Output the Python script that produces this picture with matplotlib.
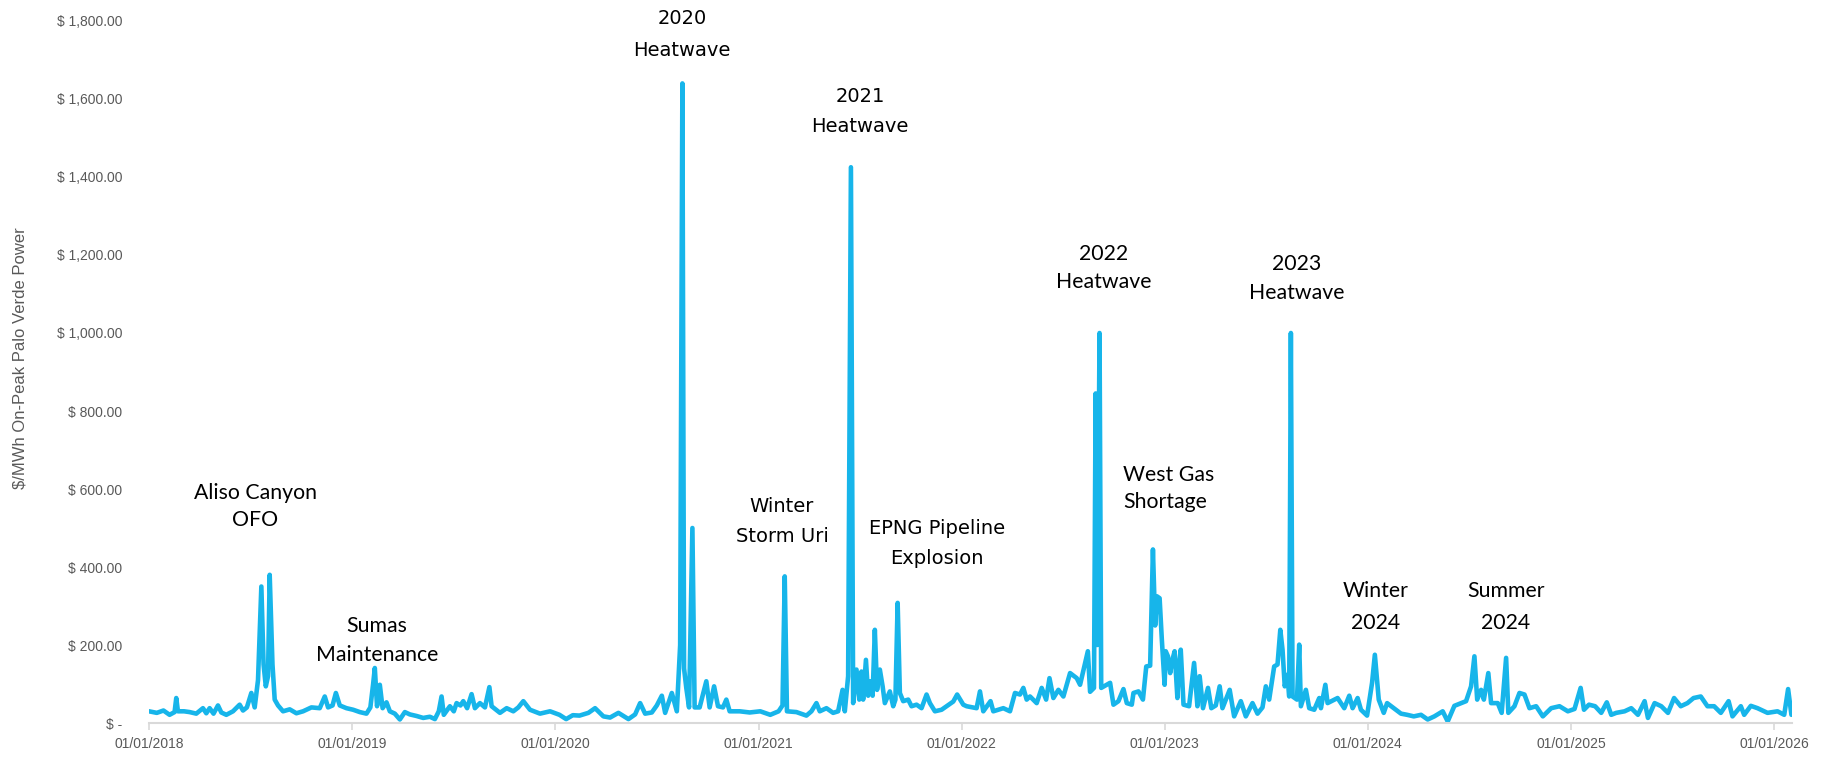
import pandas as pd
import matplotlib
matplotlib.use("Agg")
import matplotlib.pyplot as plt
import matplotlib.dates as mdates
from matplotlib import font_manager
from matplotlib.ticker import FuncFormatter

# On-peak Palo Verde power, $/MWh
d2018 = ["01-01", "01-15", "01-27", "02-07", "02-16", "02-19", "02-22", "03-05", "03-15", "03-27",
         "04-08", "04-14", "04-20", "04-27", "05-05", "05-11", "05-20", "06-01", "06-13", "06-19",
         "06-26", "07-04", "07-10", "07-16", "07-22", "07-26", "07-30", "08-03", "08-06", "08-11",
         "08-15", "08-21", "08-30", "09-11", "09-23", "10-05", "10-20", "11-04", "11-13", "11-19",
         "11-27", "12-03", "12-10", "12-22"]
v2018 = [30, 26, 32, 21, 28, 64, 30, 30, 28, 24,
         38, 25, 38, 24, 45, 27, 21, 30, 47, 32,
         40, 77, 40, 110, 350, 150, 94, 120, 380, 150,
         60, 45, 30, 35, 25, 30, 40, 38, 68, 40,
         45, 77, 45, 38]

d2019 = ["01-03", "01-15", "01-27", "02-03", "02-08", "02-11", "02-15", "02-20", "02-25", "03-04",
         "03-10", "03-19", "03-28", "04-06", "04-15", "04-27", "05-09", "05-21", "05-30", "06-06",
         "06-11", "06-15", "06-26", "07-03", "07-08", "07-15", "07-20", "07-27", "08-04", "08-10",
         "08-19", "08-28", "09-05", "09-09", "09-24", "10-06", "10-18", "10-27", "11-05", "11-17",
         "12-05", "12-23"]
v2019 = [34, 28, 24, 40, 100, 141, 43, 98, 38, 53,
         30, 24, 9, 28, 22, 18, 13, 16, 10, 30,
         68, 21, 43, 30, 51, 45, 56, 38, 74, 38,
         51, 40, 92, 43, 26, 38, 30, 40, 56, 34,
         24, 30]

d2020 = ["01-09", "01-21", "02-02", "02-14", "03-01", "03-13", "03-28", "04-09", "04-24", "05-12",
         "05-24", "06-02", "06-11", "06-23", "07-02", "07-11", "07-17", "07-29", "08-07", "08-13",
         "08-17", "08-20", "08-24", "08-29", "09-04", "09-08", "09-17", "09-29", "10-05", "10-13",
         "10-20", "10-29", "11-04", "11-10", "11-28", "12-16"]
v2020 = [21, 10, 20, 19, 26, 38, 17, 14, 26, 10,
         22, 51, 24, 27, 45, 70, 26, 77, 30, 200,
         1640, 140, 90, 40, 500, 40, 40, 107, 40, 94,
         43, 40, 60, 30, 30, 27]

d2021 = ["01-04", "01-22", "02-06", "02-13", "02-17", "02-21", "03-10", "03-28", "04-06", "04-15",
         "04-21", "05-03", "05-15", "05-24", "06-01", "06-05", "06-11", "06-16", "06-20", "06-23",
         "06-26", "07-01", "07-05", "07-08", "07-13", "07-17", "07-21", "07-25", "07-29", "08-02",
         "08-07", "08-12", "08-16", "08-25", "08-31", "09-04", "09-08", "09-12", "09-18", "09-27",
         "10-03", "10-12", "10-21", "10-30", "11-05", "11-14", "11-26", "12-05", "12-17", "12-24"]
v2021 = [30, 21, 30, 45, 376, 30, 28, 19, 30, 51,
         30, 38, 26, 30, 85, 30, 120, 1425, 51, 94,
         137, 60, 132, 60, 162, 70, 107, 70, 239, 85,
         137, 94, 51, 81, 43, 60, 308, 77, 56, 60,
         43, 47, 38, 73, 51, 30, 34, 43, 55, 73]

d2022 = ["01-04", "01-10", "01-28", "02-03", "02-09", "02-22", "02-27", "03-17", "03-29", "04-07",
         "04-16", "04-22", "04-28", "05-04", "05-16", "05-25", "06-02", "06-08", "06-15", "06-24",
         "07-03", "07-15", "07-27", "08-02", "08-09", "08-16", "08-20", "08-27", "08-30", "09-02",
         "09-06", "09-09", "09-25", "10-01", "10-10", "10-19", "10-25", "11-03", "11-06", "11-15",
         "11-23", "11-29", "12-06", "12-11", "12-15", "12-18", "12-23", "12-27"]
v2022 = [47, 43, 38, 81, 30, 56, 30, 38, 30, 77,
         73, 90, 60, 68, 51, 90, 60, 115, 64, 85,
         68, 128, 115, 98, 141, 184, 80, 90, 845, 200,
         1000, 90, 103, 47, 56, 87, 51, 47, 77, 81,
         60, 145, 147, 445, 250, 325, 320, 214]

d2023 = ["01-01", "01-03", "01-07", "01-11", "01-15", "01-19", "01-24", "01-27", "01-30", "02-04",
         "02-14", "02-23", "03-01", "03-05", "03-11", "03-20", "03-26", "04-03", "04-10", "04-15",
         "04-28", "05-06", "05-18", "05-27", "06-08", "06-17", "06-26", "07-02", "07-08", "07-17",
         "07-23", "07-28", "08-01", "08-05", "08-10", "08-13", "08-16", "08-19", "08-27", "08-31",
         "09-03", "09-12", "09-18", "09-27", "10-06", "10-09", "10-17", "10-21", "11-08", "11-20",
         "11-29", "12-05", "12-14", "12-20", "12-31"]
v2023 = [98, 184, 171, 128, 162, 184, 64, 150, 188, 47,
         43, 154, 43, 120, 38, 90, 38, 45, 94, 38,
         85, 17, 56, 17, 51, 24, 40, 94, 60, 145,
         150, 239, 188, 94, 124, 68, 1000, 68, 60, 201,
         43, 85, 38, 34, 64, 38, 98, 51, 64, 38,
         70, 38, 64, 34, 19]

d2024 = ["01-09", "01-14", "01-21", "01-30", "02-05", "02-17", "03-01", "03-12", "03-24", "04-06",
         "04-18", "04-30", "05-15", "05-24", "06-05", "06-17", "06-26", "07-05", "07-11", "07-16",
         "07-23", "07-28", "08-05", "08-10", "08-22", "08-29", "09-06", "09-10", "09-21", "09-30",
         "10-09", "10-18", "10-30", "11-11", "11-26", "12-11", "12-26"]
v2024 = [103, 175, 60, 26, 51, 38, 24, 21, 17, 21,
         9, 17, 30, 4, 44, 51, 56, 94, 171, 60,
         85, 60, 128, 51, 51, 26, 167, 26, 43, 77,
         73, 38, 43, 17, 38, 43, 30]

d2025 = ["01-07", "01-18", "01-24", "02-02", "02-13", "02-24", "03-06", "03-14", "03-23", "04-07",
         "04-19", "05-01", "05-13", "05-19", "05-31", "06-12", "06-24", "07-05", "07-17", "07-29",
         "08-09", "08-22", "09-03", "09-15", "09-27", "10-11", "10-18", "11-02", "11-08", "11-20",
         "12-02", "12-20"]
v2025 = [36, 90, 34, 47, 43, 26, 53, 21, 26, 30,
         38, 21, 56, 13, 51, 43, 26, 64, 43, 51,
         64, 68, 43, 43, 26, 56, 17, 43, 21, 44,
         38, 26]

d2026 = ["01-07", "01-19", "01-26", "02-01"]
v2026 = [30, 21, 87, 21]

years = [2018, 2019, 2020, 2021, 2022, 2023, 2024, 2025, 2026]
day_lists = [d2018, d2019, d2020, d2021, d2022, d2023, d2024, d2025, d2026]
val_lists = [v2018, v2019, v2020, v2021, v2022, v2023, v2024, v2025, v2026]

# event labels: (text lines, font group, x px, y px of each line, alignment)
events = [
    (["Aliso Canyon", "OFO"], "calibri", 255, [493, 520], "center"),
    (["Sumas", "Maintenance"], "calibri", 377, [626, 655], "center"),
    (["2020", "Heatwave"], "verdana", 682, [19, 51], "center"),
    (["2021", "Heatwave"], "verdana", 860, [97, 126], "center"),
    (["Winter", "Storm Uri"], "verdana", 782, [506, 537], "center"),
    (["EPNG Pipeline", "Explosion"], "verdana", 937, [529, 559], "center"),
    (["2022", "Heatwave"], "calibri", 1104, [254, 282], "center"),
    (["2023", "Heatwave"], "calibri", 1297, [264, 293], "center"),
    (["West Gas", "Shortage"], "calibri", 1123, [475, 502], "left"),
    (["Winter", "2024"], "calibri", 1376, [591, 623], "center"),
    (["Summer", "2024"], "calibri", 1506, [591, 623], "center"),
]

# ---------------------------------------------------------------------------
dates = []
values = []
for yr, days, vals in zip(years, day_lists, val_lists):
    dates += [pd.Timestamp(f"{yr}-{d}") for d in days]
    values += vals
series = pd.Series(values, index=pd.DatetimeIndex(dates)).sort_index()

# narrow font for the axis text if it is installed, Arial-like otherwise
try:
    font_manager.findfont(font_manager.FontProperties(family="Liberation Sans Narrow"),
                          fallback_to_default=False)
    tick_font, tick_size, ylab_size = ["Liberation Sans Narrow", "DejaVu Sans"], 11, 13
except ValueError:
    tick_font, tick_size, ylab_size = ["Liberation Sans", "DejaVu Sans"], 10, 12

W, H = 1835, 757
fig = plt.figure(figsize=(W / 100, H / 100), dpi=100)
ax = fig.add_axes([149 / W, 1 - 723 / H, (1792 - 149) / W, (723 - 21) / H])

ax.plot(series.index, series.values, color="#17B5EA", linewidth=3.3,
        solid_joinstyle="round", solid_capstyle="round")

ax.set_xlim(pd.Timestamp("2018-01-01"), pd.Timestamp("2026-02-02"))
ax.set_ylim(0, 1800)
ax.set_yticks(range(0, 1801, 200))
ax.xaxis.set_major_locator(mdates.YearLocator())
ax.xaxis.set_major_formatter(mdates.DateFormatter("%m/%d/%Y"))


def money(v, _pos):
    return "$ -" if v == 0 else f"$ {v:,.2f}"


ax.yaxis.set_major_formatter(FuncFormatter(money))

for side in ["top", "right", "left"]:
    ax.spines[side].set_visible(False)
ax.spines["bottom"].set_color("#D9D9D9")
ax.spines["bottom"].set_linewidth(1.5)
ax.tick_params(axis="x", colors="#D9D9D9", length=5, width=1.2, pad=5)
ax.tick_params(axis="y", length=0, pad=19)
for lab in ax.get_xticklabels() + ax.get_yticklabels():
    lab.set_family(tick_font)
    lab.set_fontsize(tick_size)
    lab.set_color("#595959")

fig.text(20 / W, 1 - 358 / H, "$/MWh On-Peak Palo Verde Power", rotation=90,
         ha="center", va="center", fontsize=ylab_size, color="#595959", family=tick_font)

fonts = {"calibri": (["Lato", "DejaVu Sans"], 15.3), "verdana": (["DejaVu Sans"], 14)}
for lines, group, x, ys, align in events:
    fam, size = fonts[group]
    for line, y in zip(lines, ys):
        fig.text(x / W, 1 - y / H, line, ha=align, va="center",
                 family=fam, fontsize=size, color="black")

fig.savefig("out.png", dpi=100)
